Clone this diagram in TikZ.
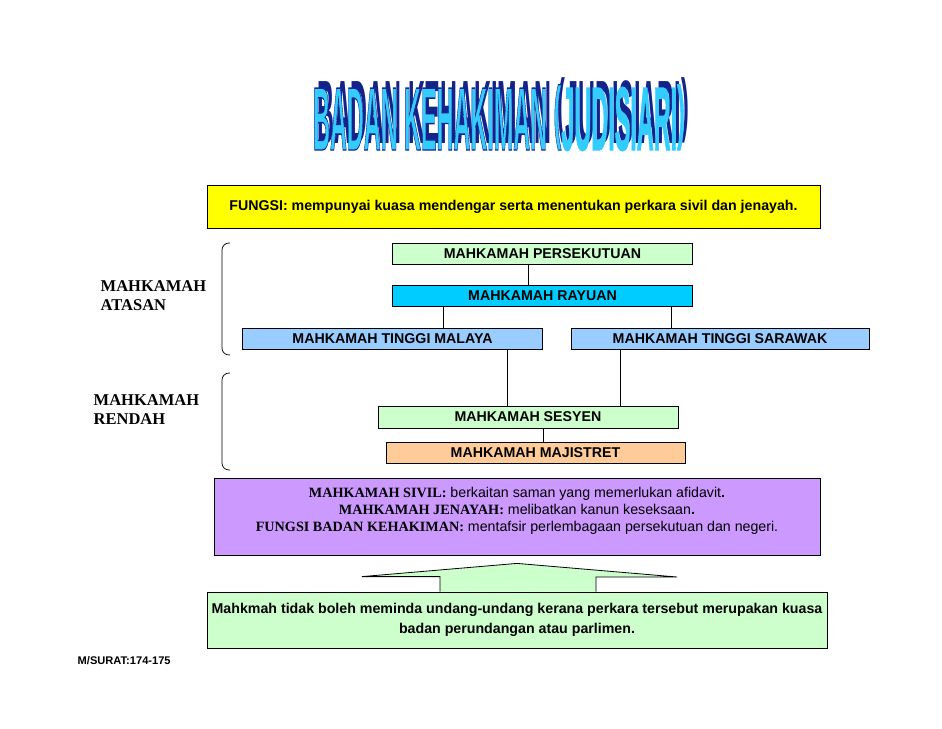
\documentclass[tikz,border=0pt]{standalone}
\usepackage{fontspec}
\setmainfont{Liberation Sans}
\newfontfamily\timesfont{Liberation Serif}
\usetikzlibrary{positioning}

\definecolor{kuning}{HTML}{FFFF00}
\definecolor{hijau}{HTML}{CCFFCC}
\definecolor{biru}{HTML}{00CCFF}
\definecolor{birumuda}{HTML}{99CCFF}
\definecolor{oren}{HTML}{FFCC99}
\definecolor{ungu}{HTML}{CC99FF}
\definecolor{langit}{HTML}{33CCFF}
\definecolor{gelap}{HTML}{14238C}

\newcommand{\kurung}[1]{\raisebox{0.16em}{\scalebox{1}[0.78]{#1}}}
\newcommand{\judul}{\scalebox{1.17}[4.5]{\fontsize{20}{20}\selectfont\bfseries BADAN KEHAKIMAN \kurung{(}JUDISIARI\kurung{)}}}
\newcommand{\garis}[1]{\special{pdf:literal direct 2 Tr 0.3 w 0.08 0.14 0.55 RG}#1\special{pdf:literal direct 0 Tr}}

\begin{document}
\begin{tikzpicture}[x=1pt,y=-1pt,font=\bfseries\fontsize{14.2}{16}\selectfont,line width=0.8pt,
		court/.style={draw, minimum width=300, minimum height=21, inner sep=0pt},
		kotak/.style={draw, inner sep=0pt},
		tahap/.style={font=\timesfont\bfseries\fontsize{16.5}{19}\selectfont, align=left, anchor=west},
		kurungan/.style={line width=0.7pt, rounded corners=7}]
		\useasboundingbox (0,0) rectangle (942,728);

		\node[text=langit, anchor=base, inner sep=0pt] (judul) at (499,150) {\makebox[0pt][l]{\raisebox{7pt}{\hspace{4pt}\textcolor{gelap}{\judul}}}\garis{\judul}};

		\node[kotak, fill=kuning, minimum width=613, minimum height=43] (fungsi) at (513.5,206.5) {FUNGSI: mempunyai kuasa mendengar serta menentukan perkara sivil dan jenayah.};

		\node[court, fill=hijau] (pk) at (542.5,253.5) {MAHKAMAH PERSEKUTUAN};
		\node[court, fill=biru] (ry) at (542.5,296) {MAHKAMAH RAYUAN};
		\node[court, fill=birumuda] (ml) at (392.5,339) {MAHKAMAH TINGGI MALAYA};
		\node[court, fill=birumuda, minimum width=298] (sw) at (720,339) {MAHKAMAH TINGGI SARAWAK};
		\node[court, fill=hijau, minimum height=22] (ss) at (528,417) {MAHKAMAH SESYEN};
		\node[court, fill=oren, minimum width=299] (mj) at (535.5,452.5) {MAHKAMAH MAJISTRET};

		\draw ([xshift=-14.5]pk.south) -- ([xshift=-14.5]pk.south |- ry.north);
		\draw ([xshift=-99.5]ry.south) -- ([xshift=-99.5]ry.south |- ml.north);
		\draw ([xshift=128.5]ry.south) -- ([xshift=128.5]ry.south |- sw.north);
		\draw ([xshift=114.5]ml.south) -- ([xshift=114.5]ml.south |- ss.north);
		\draw ([xshift=-100]sw.south) -- ([xshift=-100]sw.south |- ss.north);
		\draw ([xshift=15]ss.south) -- ([xshift=15]ss.south |- mj.north);

		\node[tahap] (atasan) at (97,296) {MAHKAMAH\\ATASAN};
		\node[tahap] (rendah) at (90,410) {MAHKAMAH\\RENDAH};
		\draw[kurungan] (230,243) -- (222,243) -- (222,355) -- (230,355);
		\draw[kurungan] (230,373) -- (222,373) -- (222,470) -- (230,470);

		\node[kotak, fill=ungu, minimum width=606, minimum height=77] (jenis) at (517,516.5) {};
		\node[align=center, anchor=north, inner sep=0pt, font=\fontsize{14.2}{17}\selectfont] (jenis-teks) at ([yshift=-9]jenis.north) {%
			{\timesfont\bfseries MAHKAMAH SIVIL:} berkaitan saman yang memerlukan afidavit{\bfseries .}\\
			{\timesfont\bfseries MAHKAMAH JENAYAH:} melibatkan kanun keseksaan{\bfseries .}\\
			{\timesfont\bfseries FUNGSI BADAN KEHAKIMAN:} mentafsir perlembagaan persekutuan dan negeri.};

		\node[kotak, fill=hijau, minimum width=620, minimum height=56, align=center, font=\bfseries\fontsize{14.2}{20}\selectfont] (nota) at (517,620) {Mahkmah tidak boleh meminda undang-undang kerana perkara tersebut merupakan kuasa\\badan perundangan atau parlimen.};
		\draw[fill=hijau] ([xshift=-77]nota.north) -- ++(0,-15) -- ++(-78,0) -- ([yshift=-8]jenis.south) -- ([xshift=160]nota.north |- 0,577) -- ++(-81,0) -- ([xshift=79]nota.north);

		\node[anchor=west, font=\bfseries\fontsize{11.1}{13}\selectfont] (surat) at (74,661) {M/SURAT:174-175};
\end{tikzpicture}
\end{document}
